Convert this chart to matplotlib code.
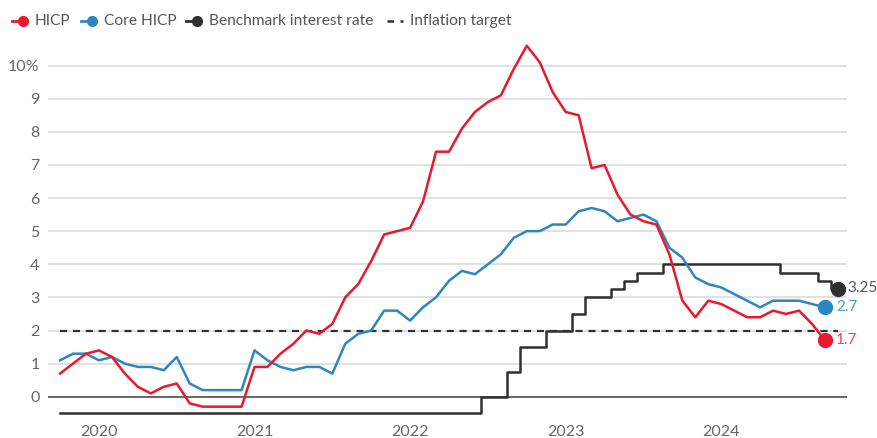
import numpy as np
import pandas as pd
from matplotlib import pyplot as plt
from matplotlib.lines import Line2D

plt.rcParams['font.family'] = ['Lato', 'DejaVu Sans']

# monthly data, Oct 2019 - Sep 2024 (rate through Oct 2024)
months = pd.date_range('2019-10-01', '2024-10-01', freq='MS')
hicp = [0.7, 1.0, 1.3,
        1.4, 1.2, 0.7, 0.3, 0.1, 0.3, 0.4, -0.2, -0.3, -0.3, -0.3, -0.3,
        0.9, 0.9, 1.3, 1.6, 2.0, 1.9, 2.2, 3.0, 3.4, 4.1, 4.9, 5.0,
        5.1, 5.9, 7.4, 7.4, 8.1, 8.6, 8.9, 9.1, 9.9, 10.6, 10.1, 9.2,
        8.6, 8.5, 6.9, 7.0, 6.1, 5.5, 5.3, 5.2, 4.3, 2.9, 2.4, 2.9,
        2.8, 2.6, 2.4, 2.4, 2.6, 2.5, 2.6, 2.2, 1.7]
core = [1.1, 1.3, 1.3,
        1.1, 1.2, 1.0, 0.9, 0.9, 0.8, 1.2, 0.4, 0.2, 0.2, 0.2, 0.2,
        1.4, 1.1, 0.9, 0.8, 0.9, 0.9, 0.7, 1.6, 1.9, 2.0, 2.6, 2.6,
        2.3, 2.7, 3.0, 3.5, 3.8, 3.7, 4.0, 4.3, 4.8, 5.0, 5.0, 5.2,
        5.2, 5.6, 5.7, 5.6, 5.3, 5.4, 5.5, 5.3, 4.5, 4.2, 3.6, 3.4,
        3.3, 3.1, 2.9, 2.7, 2.9, 2.9, 2.9, 2.8, 2.7]
rate = [-0.5] * 33 + [0, 0, 0.75, 1.5, 1.5, 2.0, 2.0, 2.5, 3.0, 3.0, 3.25, 3.5,
                      3.75, 3.75] + [4.0] * 9 + [3.75, 3.75, 3.75, 3.5, 3.25]
target = 2.0
year_labels = ['2020', '2021', '2022', '2023', '2024']

RED = '#e8192c'
BLUE = '#2e86c1'
BLACK = '#303030'

x_all = np.arange(len(rate))
x_cpi = np.arange(len(hicp))

fig = plt.figure(figsize=(8.78, 4.38), dpi=100)
ax = fig.add_axes([48 / 878, 0.0413, (847 - 48) / 878, 0.877])

# grid
for v in range(1, 11):
    ax.axhline(v, color='#d9d9d9', lw=1.1, zorder=0)
ax.axhline(0, color='#666666', lw=1.4, zorder=1)

ax.plot([x_all[0], x_all[-1]], [target, target], color=BLACK, lw=1.6,
        ls=(0, (3.2, 2.6)), zorder=2)
ax.step(x_all, rate, where='mid', color=BLACK, lw=1.8, zorder=3)
ax.plot(x_cpi, core, color=BLUE, lw=1.8, zorder=4)
ax.plot(x_cpi, hicp, color=RED, lw=1.8, zorder=5)

# end dots and labels
ax.plot(x_all[-1], rate[-1], 'o', color=BLACK, ms=10, zorder=6)
ax.plot(x_cpi[-1], core[-1], 'o', color=BLUE, ms=10, zorder=6)
ax.plot(x_cpi[-1], hicp[-1], 'o', color=RED, ms=10, zorder=6)
ax.annotate('%g' % rate[-1], (x_all[-1], rate[-1]), xytext=(7, 1), textcoords='offset points',
            va='center', ha='left', fontsize=11, color='#555555', annotation_clip=False)
ax.annotate('%g' % core[-1], (x_cpi[-1], core[-1]), xytext=(8, 0), textcoords='offset points',
            va='center', ha='left', fontsize=11, color='#4a9ad6', annotation_clip=False)
ax.annotate('%g' % hicp[-1], (x_cpi[-1], hicp[-1]), xytext=(8, 0), textcoords='offset points',
            va='center', ha='left', fontsize=11, color='#ee4455', annotation_clip=False)

ax.set_xlim(-0.93, 60.7)
ax.set_ylim(-0.7, 10.9)
year_pos = [list(months).index(pd.Timestamp(y + '-01-01')) for y in year_labels]
ax.set_xticks(year_pos)
ax.set_xticklabels(year_labels)
ax.set_yticks(range(0, 11))
ax.set_yticklabels([str(v) for v in range(0, 10)] + ['10%'])
ax.tick_params(axis='both', length=0, labelsize=11.5, labelcolor='#666666')
ax.tick_params(axis='x', pad=4)
ax.tick_params(axis='y', pad=6)
for s in ax.spines.values():
    s.set_visible(False)

# legend drawn by hand
items = [('HICP', RED, '-'), ('Core HICP', BLUE, '-'),
         ('Benchmark interest rate', BLACK, '-'), ('Inflation target', BLACK, '--')]
xpos = [12, 81, 186, 387]
ly = 1 - 21 / 438
for (lab, col, ls), xp in zip(items, xpos):
    x0 = xp / 878
    if ls == '-':
        fig.add_artist(Line2D([x0, x0 + 10 / 878], [ly, ly], color=col, lw=2))
        fig.add_artist(Line2D([x0 + 11 / 878], [ly], marker='o', color=col, ms=7))
        fig.text(x0 + 23 / 878, ly, lab, va='center', ha='left', fontsize=11.2, color='#555555')
    else:
        fig.add_artist(Line2D([x0, x0 + 16 / 878], [ly, ly], color=col, lw=1.8,
                              ls=(0, (2.6, 2.6))))
        fig.text(x0 + 23 / 878, ly, lab, va='center', ha='left', fontsize=11.2, color='#555555')

fig.savefig('out.png', dpi=100)
